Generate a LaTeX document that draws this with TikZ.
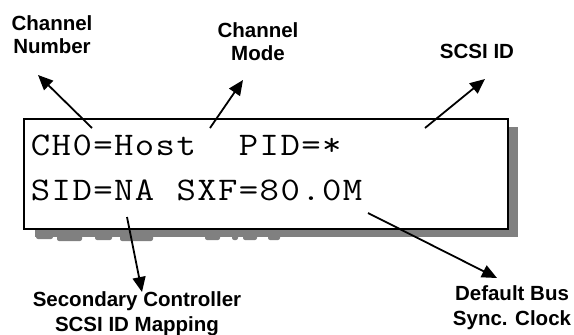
\documentclass[tikz,border=0pt]{standalone}
\usepackage{fontspec}
\usepackage{graphicx}
\newfontfamily\labfont{Liberation Sans}
\usetikzlibrary{arrows.meta}
\definecolor{shadowgrey}{HTML}{808080}
\makeatletter
\def\lcdtext#1{\lcd@step#1\@nil}
\def\lcd@step#1{\ifx#1\@nil\else\makebox[20.8pt][c]{\scalebox{1.14}[1]{#1}}\expandafter\lcd@step\fi}
\makeatother
\tikzset{
  lbl/.style={font=\labfont\bfseries\fontsize{20.5}{23}\selectfont, align=center, inner sep=0pt, anchor=base},
  lblwide/.style={lbl, font=\labfont\bfseries\fontsize{20.5}{25}\selectfont},
  lcd/.style={font=\ttfamily\fontsize{33}{40}\selectfont, inner sep=0pt, anchor=base west},
  pointer/.style={line width=1.8pt, -{Triangle[length=15pt,width=13pt]}},
  ghost/.style={fill=shadowgrey, draw=none, rounded corners=2pt}
}
\begin{document}
\begin{tikzpicture}[x=1pt,y=-1pt]
\useasboundingbox (0,0) rectangle (574,335);
% shadow
\fill[shadowgrey] (35,127) rectangle (518,237);
\fill[ghost] (36,234) rectangle (53,239);
\fill[ghost] (57,234) rectangle (82,241);
\fill[ghost] (95,234) rectangle (112,240);
\fill[ghost] (120,234) rectangle (153,241);
\fill[ghost] (205,234) rectangle (220,240);
\fill[ghost] (232,234) rectangle (238,240);
\fill[ghost] (243,234) rectangle (257,240);
\fill[ghost] (268,234) rectangle (280,240);
% display box
\node[draw=black, line width=2pt, fill=white, minimum width=484pt, minimum height=110pt, inner sep=0pt, anchor=north west] (box) at (23,118) {};
\node[lcd] (line1) at (30,155) {\lcdtext{CH0=Host~~PID=*}};
\node[lcd] (line2) at (30,200) {\lcdtext{SID=NA~SXF=80.0M}};
% labels (anchor base = baseline of the last line)
\node[lbl] (chnum) at (52,53) {Channel\\Number};
\node[lbl] (chmode) at (258,60) {Channel\\Mode};
\node[lbl] (scsi) at (477,58) {SCSI ID};
\node[lblwide] (sec) at (137,331) {Secondary Controller\\SCSI ID Mapping};
\node[lblwide] (defbus) at (512,325) {Default Bus\\Sync. Clock};
% arrow ends
\coordinate (t1) at (92,128);  \coordinate (h1) at (38,75);
\coordinate (t2) at (210,128); \coordinate (h2) at (243,80);
\coordinate (t3) at (425,128); \coordinate (h3) at (485,79);
\coordinate (t4) at (127,217); \coordinate (h4) at (142,292);
\coordinate (t5) at (368,213); \coordinate (h5) at (497,278);
\draw[pointer] (t1) -- (h1);
\draw[pointer] (t2) -- (h2);
\draw[pointer] (t3) -- (h3);
\draw[pointer] (t4) -- (h4);
\draw[pointer] (t5) -- (h5);
\end{tikzpicture}
\end{document}
